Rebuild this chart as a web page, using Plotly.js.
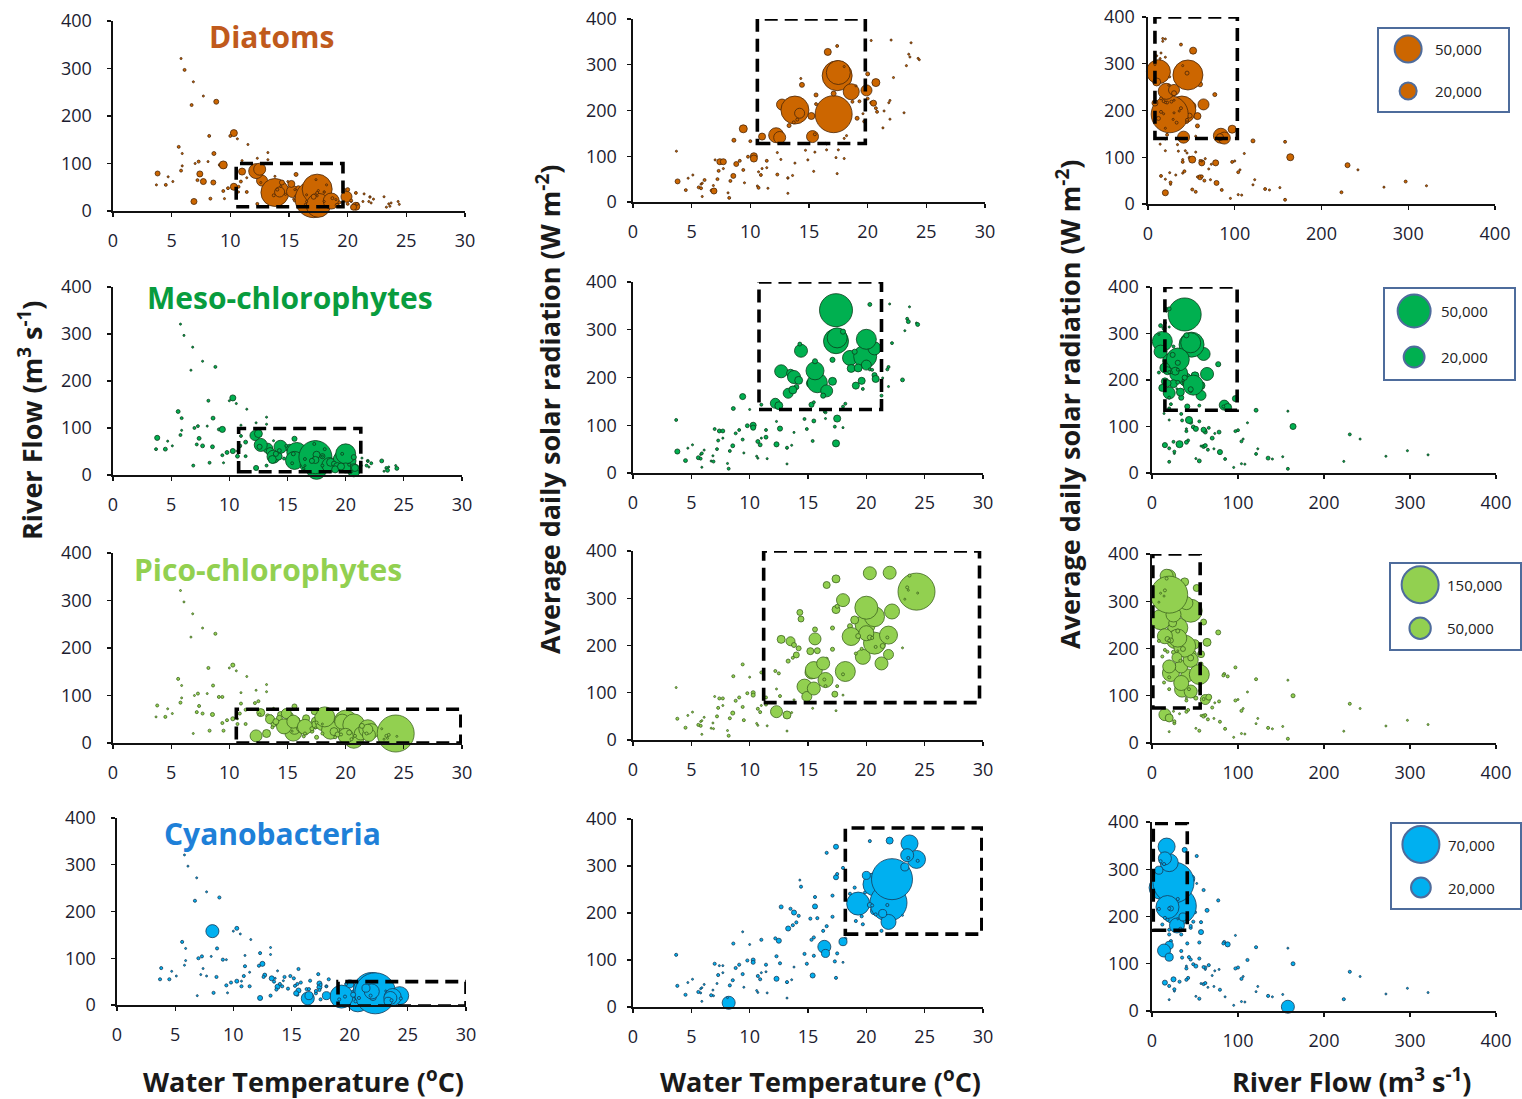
<!DOCTYPE html>
<html><head><meta charset="utf-8">
<script src="https://cdn.plot.ly/plotly-3.0.1.min.js"></script>
<style>html,body{margin:0;padding:0;background:#fff}#chart{width:1522px;height:1099px}</style>
</head><body><div id="chart"></div>
<script>
// ---- sampled data (shared sampling events) ----
const tempC = [3.8,3.7,4.5,4.7,5.1,5.9,6.1,5.8,6.85,6.7,
7.0,7.4,7.7,7.3,7.2,8.2,8.6,8.55,8.8,9.1,
9.4,9.8,10.3,9.4,9.5,10.9,10.7,11.4,10.0,5.6,
5.9,8.1,5.8,6.9,8.3,10.3,7.7,10.6,12.3,11.5,
13.2,13.2,13.6,13.8,11.0,12.3,13.2,13.3,12.7,13.5,
13.8,12.2,12.5,11.0,14.2,14.4,14.3,15.3,15.5,15.2,
15.8,15.6,15.6,16.6,16.6,16.3,17.1,17.4,17.5,17.4,
18.6,19.9,20.7,20.0,18.0,18.7,19.0,19.7,20.3,20.7,
21.3,21.9,22.2,22.0,24.3,20.0,18.2,14.7,14.9,15.5,
16.5,17.3,17.5,17.4,18.0,19.3,23.7,23.5,23.3,21.9,
21.4,20.3,18.0,16.4,16.5,15.4,23.1,23.6,24.4,19.1,
20.5,20.8,21.8,17.1,12.6,11.4,10.7,14.0,19.6,13.7];
const flowQ = [79,55,55,72,62,95,297,321,272,223,
100,78,62,104,65,158,121,60,230,97,
97,48,164,42,26,62,51,40,158,135,
121,104,85,20,26,51,242,152,111,140,
123,108,57,73,106,15,20,57,64,50,
39,84,88,83,40,60,52,41,22,57,
48,31,77,52,20,34,25,46,12,38,
21,30,10,45,40,27,24,45,20,38,
20,30,25,17,20,15,55,35,62,45,
34,66,43,32,40,18,17,15,8,29,
36,22,20,14,20,25,30,10,14,12,
8,15,20,30,60,70,40,45,18,33];
const solarR = [45,111,26,52,59,12,48,39,36,25,
92,88,88,68,50,9,135,57,83,90,
160,99,100,70,42,59,31,90,133,32,
41,20,30,24,46,95,73,35,108,30,
52,19,58,85,73,60,53,167,213,209,
201,146,141,143,194,256,270,143,148,188,
189,214,234,328,172,162,192,276,283,341,
241,244,261,280,296,219,254,176,353,205,
162,222,272,354,314,226,145,113,92,109,
127,97,114,62,95,220,348,323,298,181,
199,217,139,128,114,67,195,317,311,183,
216,197,217,237,93,75,66,180,193,174];

// ---- abundances per group ----
const diatoms = [1700,300,600,300,300,300,600,300,300,600,
300,2500,2500,600,600,600,1100,1700,1700,600,
4400,600,3400,600,300,600,600,600,600,600,
300,300,600,2500,600,3400,300,300,300,300,
300,300,300,300,300,600,300,1100,8300,5600,
53800,15400,9900,3400,6900,1700,300,9900,600,3400,
1700,600,1100,3400,1700,600,94000,61700,39500,600,
17600,8300,4400,1100,300,600,300,600,300,600,
300,300,300,300,300,600,300,300,300,300,
300,300,300,300,300,600,300,300,300,300,
300,600,300,300,300,300,300,300,300,1100,
2500,600,300,1700,300,300,300,600,300,600];
const meso = [1200,400,700,200,200,200,200,200,200,200,
400,700,700,400,400,400,700,700,400,400,
1700,700,1700,400,200,700,200,400,200,700,
400,200,400,400,400,1200,200,200,200,200,
200,200,200,200,200,1200,400,4600,7800,2900,
7800,4600,2900,400,2900,7800,700,1200,400,2900,
18400,14900,1200,400,6600,1200,2900,28700,18400,50000,
10300,24300,7800,18400,1200,2900,1200,400,700,1200,
400,400,400,200,200,4600,400,400,400,700,
400,400,2300,2300,200,2900,200,400,200,200,
200,400,400,200,200,400,700,700,700,2300,
400,2300,400,1200,1200,700,700,1200,2300,2900];
const pico = [1000,400,1000,400,400,400,400,400,400,400,
400,1000,1000,1000,1000,1000,1000,1800,1000,1000,
1000,1000,1800,1000,1000,1000,400,1000,400,1000,
400,400,1000,400,1000,1800,400,400,400,400,
400,400,400,400,400,15800,7000,1800,7000,8900,
2700,1000,1000,1000,2700,3900,3900,18500,31700,5400,
3900,15800,2700,5400,1000,18500,1800,7000,1800,7000,
2700,43800,43800,58000,18500,35500,7000,24700,18500,53000,
18500,35500,24700,18500,150000,24700,43800,24700,11000,18500,
24700,3900,1000,400,400,2700,1000,1000,400,11000,
2700,2700,1000,1000,1000,400,400,400,400,1000,
1000,1000,1000,1800,1000,1000,1000,3900,1000,1000];
const cyano = [500,500,500,200,200,200,200,200,200,500,
500,200,200,500,200,8700,500,500,500,500,
200,500,800,500,200,500,200,500,200,500,
200,200,200,200,500,800,200,200,500,200,
200,200,200,200,200,1300,500,1300,800,500,
1300,500,1300,500,500,500,200,500,500,500,
500,1300,500,500,500,500,500,1300,500,1300,
500,500,27100,3300,500,500,500,500,500,3300,
500,70000,86000,2500,16600,1300,500,500,500,500,
500,500,500,500,200,27100,14800,8700,3300,11500,
3300,1300,3300,8700,3300,1300,200,500,500,500,
500,500,500,500,500,200,500,500,500,500];

const groupNames = ['Diatoms','Meso-chlorophytes','Pico-chlorophytes','Cyanobacteria'];
const legendBig = [50000, 50000, 150000, 70000];
const legendSmall = [20000, 20000, 50000, 20000];
const tempTicks = [0,5,10,15,20,25,30];
const flowTicks = [0,100,200,300,400];
const radTicks = [0,100,200,300,400];
// dashed "optimal window" boxes: [x0,x1,y0,y1] for (T-Q, T-R, Q-R)
const boxes = [
  [[10.5,19.6,9,100],[10.6,19.8,128,400],[8,103,140,400]],
  [[10.8,21.3,7,99],[10.8,21.3,133,400],[15,99,135,400]],
  [[10.6,29.9,0,71],[11.2,29.7,79,400],[1,56,74,400]],
  [[19,30,-2,50],[18.2,29.9,155,381],[1.5,41,171,397]]
];

// ---- styling / layout (pixels) ----
const W = 1522, H = 1099;
const fills = ['#CC6600','#00B050','#92D050','#00B0F0'];
const edges = ['#4a2608','#0b3d1c','#3d6420','#163a58'];
const titleCols = ['#C05A1C','#089C3E','#92D050','#1E80D8'];
const legendBigPx = [27, 33, 37, 37];
const panelPx = [
 [[113,465,21,211],[633,985,19,202],[1148,1495,17,204]],
 [[113,462,287,475],[633,983,282,473],[1152,1496,287,473]],
 [[113,462,553,743],[633,983,551,740],[1152,1496,554,743]],
 [[117,466,818,1005],[633,983,819,1007],[1152,1496,822,1011]]
];
const legendPx = [[1378,1509,28,112],[1384,1515,288,380],[1390,1521,563,650],[1391,1521,823,909]];
const titlePx = [[271,36],[290,298],[268,569],[272,833]];

const groups = [diatoms, meso, pico, cyano];
const pairs = [[tempC, flowQ],[tempC, solarR],[flowQ, solarR]];
const FONT = 'Open Sans, sans-serif';
const tickFont = {family:FONT, size:18, color:'#1c1c30'};

const traces = [];
const layout = {
  width: W, height: H, margin:{l:0,r:0,t:0,b:0},
  paper_bgcolor:'#ffffff', plot_bgcolor:'rgba(0,0,0,0)',
  showlegend:false, shapes:[], annotations:[]
};
function xd(a,b){return [a/W,b/W];}
function yd(top,bot){return [1-bot/H,1-top/H];}

for (let g=0; g<4; g++) {
  const k = legendBigPx[g]/Math.sqrt(legendBig[g]);
  const sizeref = 2/(k*k);
  for (let c=0; c<3; c++) {
    const idx = g*3+c+1;
    const px = panelPx[g][c];
    const xa = 'xaxis'+idx, ya = 'yaxis'+idx;
    const isFlowX = (c===2);
    layout[xa] = {
      domain: xd(px[0],px[1]), anchor:'y'+idx,
      range: isFlowX ? [0,400] : [0,30],
      tickvals: isFlowX ? flowTicks : tempTicks,
      showline:true, linecolor:'#111', linewidth:1.6,
      ticks:'outside', ticklen:4, tickcolor:'#111', tickwidth:1.2,
      showgrid:false, zeroline:false, tickfont:tickFont, ticklabelstandoff:9,
      fixedrange:true
    };
    layout[ya] = {
      domain: yd(px[2],px[3]), anchor:'x'+idx,
      range:[0,400], tickvals: c===0 ? flowTicks : radTicks,
      showline:true, linecolor:'#111', linewidth:1.6,
      ticks:'outside', ticklen:4, tickcolor:'#111', tickwidth:1.2,
      showgrid:false, zeroline:false, tickfont:tickFont,
      ticklabelstandoff: c===0 ? 12 : (c===1 ? 7 : 4),
      fixedrange:true
    };
    traces.push({
      type:'scatter', mode:'markers',
      x: pairs[c][0], y: pairs[c][1],
      xaxis:'x'+idx, yaxis:'y'+idx, cliponaxis:false, hoverinfo:'skip',
      marker:{size: groups[g], sizemode:'area', sizeref: sizeref, sizemin:1,
              color: fills[g], line:{color: edges[g], width:0.8}, opacity:1}
    });
    const b = boxes[g][c];
    layout.shapes.push({type:'rect', xref:'x'+idx, yref:'y'+idx,
      x0:b[0], x1:b[1], y0:b[2], y1:b[3],
      line:{color:'#000', width:3.6, dash:'13px,7px'}, fillcolor:'rgba(0,0,0,0)'});
  }
  // legend box
  const lp = legendPx[g];
  const li = 13+g;
  layout['xaxis'+li] = {domain: xd(lp[0],lp[1]), anchor:'y'+li, range:[0,1], visible:false, fixedrange:true};
  layout['yaxis'+li] = {domain: yd(lp[2],lp[3]), anchor:'x'+li, range:[0,1], visible:false, fixedrange:true};
  layout.shapes.push({type:'rect', xref:'paper', yref:'paper', layer:'below',
    x0:lp[0]/W, x1:lp[1]/W, y0:1-lp[3]/H, y1:1-lp[2]/H,
    line:{color:'#4E6C9C', width:2}, fillcolor:'#ffffff'});
  traces.push({
    type:'scatter', mode:'markers', x:[0.23,0.23], y:[0.75,0.25],
    xaxis:'x'+li, yaxis:'y'+li, cliponaxis:false, hoverinfo:'skip',
    marker:{size:[legendBig[g], legendSmall[g]], sizemode:'area', sizeref:sizeref,
            color: fills[g], opacity:1, line:{color:'#4E6C9C', width:2}}
  });
  [legendBig[g], legendSmall[g]].forEach((v,i)=>{
    layout.annotations.push({xref:'x'+li, yref:'y'+li, x:0.42, y: i===0?0.75:0.25,
      xanchor:'left', yanchor:'middle', showarrow:false,
      text: v.toLocaleString('en-US'), font:{family:FONT, size:15, color:'#222'}});
  });
  // group title
  layout.annotations.push({xref:'paper', yref:'paper', x:titlePx[g][0]/W, y:1-titlePx[g][1]/H,
    xanchor:'center', yanchor:'middle', showarrow:false,
    text:'<b>'+groupNames[g]+'</b>', font:{family:FONT, size:30, color:titleCols[g]}});
}

// shared axis titles
const axisTitleFont = {family:FONT, size:27, color:'#1a1a1a'};
const axTitles = [
  ['<b>River Flow (m<sup>3</sup> s<sup>-1</sup>)</b>', 30, 420, -90],
  ['<b>Average daily solar radiation (W m<sup>-2</sup>)</b>', 549, 410, -90],
  ['<b>Average daily solar radiation (W m<sup>-2</sup>)</b>', 1068, 405, -90],
  ['<b>Water Temperature (<sup>o</sup>C)</b>', 303, 1080, 0],
  ['<b>Water Temperature (<sup>o</sup>C)</b>', 820, 1080, 0],
  ['<b>River Flow (m<sup>3</sup> s<sup>-1</sup>)</b>', 1352, 1080, 0]
];
axTitles.forEach(t=>{
  layout.annotations.push({xref:'paper', yref:'paper', x:t[1]/W, y:1-t[2]/H,
    xanchor:'center', yanchor:'middle', showarrow:false, textangle:t[3],
    text:t[0], font:axisTitleFont});
});

Plotly.newPlot('chart', traces, layout, {staticPlot:true, displayModeBar:false});
</script>
</body></html>
